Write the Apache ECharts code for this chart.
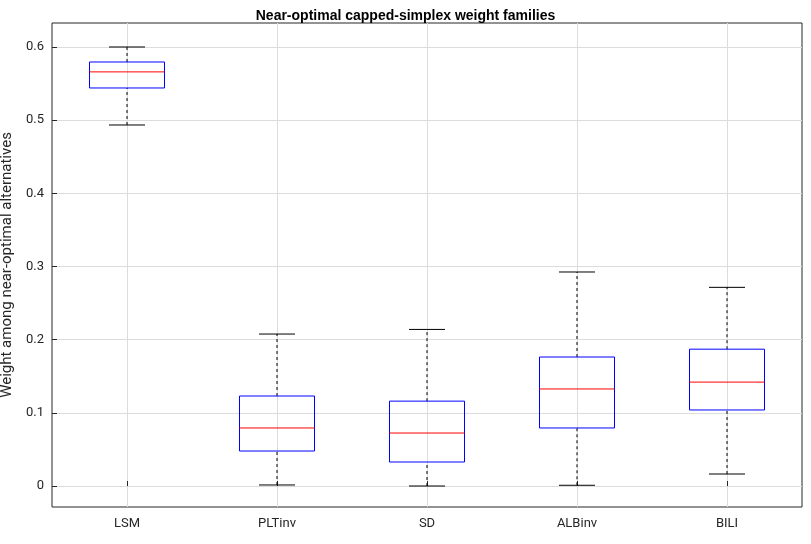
<!DOCTYPE html>
<html>
<head>
<meta charset="utf-8">
<script src="https://cdn.jsdelivr.net/npm/echarts@6/dist/echarts.min.js"></script>
<style>html,body{margin:0;padding:0;background:#fff}#chart{width:811px;height:544px}</style>
</head>
<body>
<div id="chart"></div>
<script>
var categories = ['LSM', 'PLTinv', 'SD', 'ALBinv', 'BILI'];
// [low whisker, Q1, median, Q3, high whisker]
var lowWhisker = [0.4934, 0.0014, 0.0, 0.001, 0.0164];
var q1 = [0.544, 0.0478, 0.0328, 0.0793, 0.1039];
var medians = [0.566, 0.0793, 0.0724, 0.1326, 0.142];
var q3 = [0.5795, 0.123, 0.116, 0.1763, 0.187];
var highWhisker = [0.600, 0.2077, 0.214, 0.2925, 0.2715];
var yTicks = [0, 0.1, 0.2, 0.3, 0.4, 0.5, 0.6];

var boxData = [];
for (var i = 0; i < categories.length; i++) {
    boxData.push([i + 1, lowWhisker[i], q1[i], medians[i], q3[i], highWhisker[i]]);
}

var myChart = echarts.init(document.getElementById('chart'));
var option = {
    animation: false,
    title: {
        text: 'Near-optimal capped-simplex weight families',
        left: 'center', top: 4,
        textStyle: {fontSize: 14, fontWeight: 'bold', color: '#000', fontFamily: 'Liberation Sans'}
    },
    grid: {left: 52, right: 9, top: 23, bottom: 37, outerBoundsMode: 'none', containLabel: false,
        show: true, borderColor: '#262626', borderWidth: 1},
    xAxis: {
        type: 'value', min: 0.5, max: 5.5,
        axisLine: {show: false},
        axisTick: {show: true, inside: true, length: 5, customValues: [1, 2, 3, 4, 5], lineStyle: {color: '#262626'}},
        axisLabel: {customValues: [1, 2, 3, 4, 5], color: '#262626', fontSize: 13, margin: 10, fontFamily: 'Roboto',
            formatter: function (v) { return categories[Math.round(v) - 1] || ''; }},
        splitLine: {show: true, lineStyle: {color: '#dcdcdc'}}
    },
    yAxis: {
        type: 'value', min: -0.0287, max: 0.6328,
        name: 'Weight among near-optimal alternatives', nameLocation: 'middle', nameGap: 34,
        nameTextStyle: {fontSize: 15, color: '#262626', fontFamily: 'Roboto'},
        axisLine: {show: false},
        axisTick: {show: true, inside: true, length: 5, customValues: yTicks, lineStyle: {color: '#262626'}},
        axisLabel: {customValues: yTicks, color: '#262626', fontSize: 13, fontFamily: 'Roboto',
            formatter: function (v) { return v === 0 ? '0' : v.toFixed(1); }},
        splitLine: {show: true, lineStyle: {color: '#dcdcdc'}}
    },
    series: [{
        type: 'custom',
        data: boxData,
        renderItem: function (params, api) {
            var x = api.value(0);
            var hw = 0.25, cw = 0.12;
            var pLow = api.coord([x, api.value(1)]);
            var pQ1 = api.coord([x, api.value(2)]);
            var pMed = api.coord([x, api.value(3)]);
            var pQ3 = api.coord([x, api.value(4)]);
            var pHigh = api.coord([x, api.value(5)]);
            var left = api.coord([x - hw, 0])[0], right = api.coord([x + hw, 0])[0];
            var cl = api.coord([x - cw, 0])[0], cr = api.coord([x + cw, 0])[0];
            var dash = {stroke: '#000', lineWidth: 1, lineDash: [3, 3]};
            var solid = {stroke: '#000', lineWidth: 1};
            return {type: 'group', children: [
                {type: 'line', shape: {x1: pQ3[0], y1: pQ3[1], x2: pHigh[0], y2: pHigh[1]}, style: dash},
                {type: 'line', shape: {x1: pLow[0], y1: pLow[1], x2: pQ1[0], y2: pQ1[1]}, style: dash},
                {type: 'line', shape: {x1: cl, y1: pHigh[1], x2: cr, y2: pHigh[1]}, style: solid},
                {type: 'line', shape: {x1: cl, y1: pLow[1], x2: cr, y2: pLow[1]}, style: solid},
                {type: 'rect', shape: {x: left, y: pQ3[1], width: right - left, height: pQ1[1] - pQ3[1]},
                    style: {fill: 'none', stroke: '#0000ff', lineWidth: 1}},
                {type: 'line', shape: {x1: left, y1: pMed[1], x2: right, y2: pMed[1]}, style: {stroke: '#ff0000', lineWidth: 1}}
            ]};
        }
    }]
};
myChart.setOption(option);
</script>
</body>
</html>
